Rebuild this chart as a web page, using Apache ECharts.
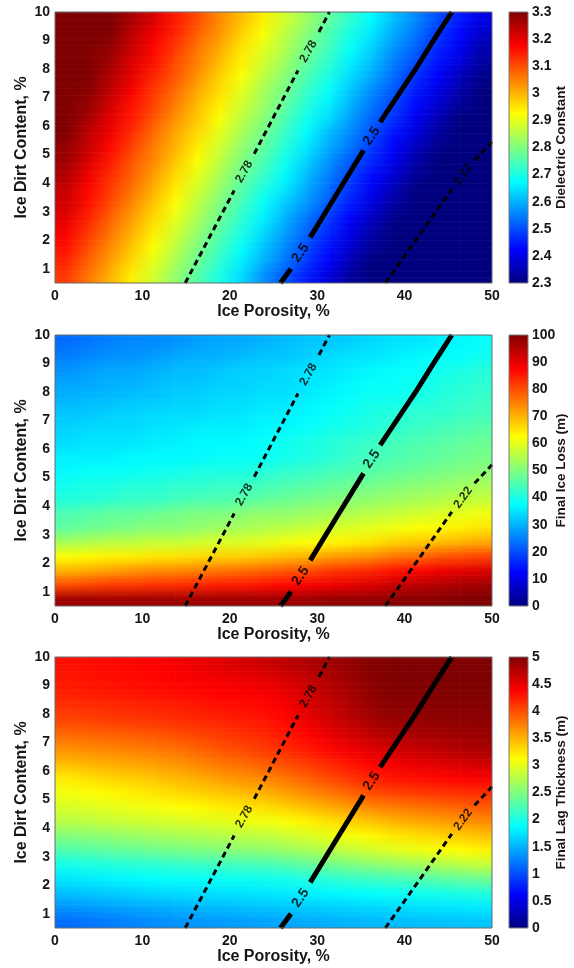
<!DOCTYPE html>
<html><head><meta charset="utf-8">
<script src="https://cdn.jsdelivr.net/npm/echarts@6/dist/echarts.min.js"></script>
<style>html,body{margin:0;padding:0;background:#fff}#c{width:574px;height:968px}</style>
</head><body><div id="c"></div>
<script>
// ---- data (grid nodes) ----
const porosity = [1.25,3.75,6.25,8.75,11.25,13.75,16.25,18.75,21.25,23.75,26.25,28.75,31.25,33.75,36.25,38.75,41.25,43.75,46.25,48.75];
const dirt = [0.75,1.25,1.75,2.25,2.75,3.25,3.75,4.25,4.75,5.25,5.75,6.25,6.75,7.25,7.75,8.25,8.75,9.25,9.75];

const dielectric = [
[3.12,3.06,3.00,2.94,2.88,2.82,2.76,2.70,2.64,2.57,2.51,2.45,2.39,2.33,2.27,2.21,2.15,2.09,2.02,1.96],
[3.14,3.08,3.02,2.96,2.90,2.84,2.78,2.72,2.66,2.60,2.54,2.48,2.42,2.35,2.29,2.23,2.17,2.11,2.05,1.99],
[3.16,3.10,3.04,2.98,2.92,2.86,2.80,2.74,2.68,2.62,2.56,2.50,2.44,2.38,2.32,2.26,2.20,2.14,2.08,2.02],
[3.18,3.12,3.06,3.00,2.94,2.88,2.82,2.76,2.70,2.64,2.58,2.52,2.46,2.40,2.34,2.28,2.22,2.16,2.10,2.04],
[3.20,3.14,3.08,3.02,2.96,2.90,2.84,2.78,2.72,2.66,2.60,2.54,2.48,2.42,2.36,2.31,2.25,2.19,2.13,2.07],
[3.22,3.16,3.10,3.04,2.98,2.92,2.86,2.80,2.74,2.68,2.62,2.57,2.51,2.45,2.39,2.33,2.27,2.21,2.15,2.09],
[3.23,3.17,3.12,3.06,3.00,2.94,2.88,2.82,2.76,2.70,2.65,2.59,2.53,2.47,2.41,2.35,2.29,2.24,2.18,2.12],
[3.25,3.19,3.13,3.08,3.02,2.96,2.90,2.84,2.78,2.73,2.67,2.61,2.55,2.49,2.43,2.38,2.32,2.26,2.20,2.14],
[3.27,3.21,3.15,3.09,3.04,2.98,2.92,2.86,2.80,2.75,2.69,2.63,2.57,2.51,2.46,2.40,2.34,2.28,2.23,2.17],
[3.28,3.23,3.17,3.11,3.05,3.00,2.94,2.88,2.82,2.77,2.71,2.65,2.59,2.54,2.48,2.42,2.36,2.31,2.25,2.19],
[3.30,3.24,3.19,3.13,3.07,3.01,2.96,2.90,2.84,2.79,2.73,2.67,2.61,2.56,2.50,2.44,2.39,2.33,2.27,2.22],
[3.32,3.26,3.20,3.15,3.09,3.03,2.98,2.92,2.86,2.81,2.75,2.69,2.64,2.58,2.52,2.47,2.41,2.35,2.30,2.24],
[3.33,3.28,3.22,3.16,3.11,3.05,2.99,2.94,2.88,2.83,2.77,2.71,2.66,2.60,2.54,2.49,2.43,2.38,2.32,2.26],
[3.35,3.29,3.24,3.18,3.12,3.07,3.01,2.96,2.90,2.84,2.79,2.73,2.68,2.62,2.56,2.51,2.45,2.40,2.34,2.29],
[3.36,3.31,3.25,3.20,3.14,3.09,3.03,2.97,2.92,2.86,2.81,2.75,2.70,2.64,2.59,2.53,2.47,2.42,2.36,2.31],
[3.38,3.32,3.27,3.21,3.16,3.10,3.05,2.99,2.94,2.88,2.83,2.77,2.72,2.66,2.61,2.55,2.50,2.44,2.39,2.33],
[3.39,3.34,3.28,3.23,3.17,3.12,3.06,3.01,2.95,2.90,2.85,2.79,2.74,2.68,2.63,2.57,2.52,2.46,2.41,2.35],
[3.41,3.35,3.30,3.24,3.19,3.14,3.08,3.03,2.97,2.92,2.86,2.81,2.75,2.70,2.65,2.59,2.54,2.48,2.43,2.37],
[3.42,3.37,3.31,3.26,3.21,3.15,3.10,3.04,2.99,2.94,2.88,2.83,2.77,2.72,2.67,2.61,2.56,2.50,2.45,2.40]
];

const iceLoss = [
[97,97,97,97,97,97,97,97,97,97,97,97,98,98,98,99,99,99,100,100],
[80,81,82,82,83,83,84,85,85,86,87,88,89,90,91,93,94,95,96,97],
[70,71,72,73,74,74,75,76,77,78,79,80,82,83,84,86,87,89,90,91],
[62,63,64,64,65,65,66,67,67,68,69,70,72,73,74,76,77,79,80,81],
[54,55,56,56,57,57,58,59,59,60,61,62,63,64,65,67,68,69,70,71],
[47,48,49,50,51,51,52,53,54,55,56,57,58,59,60,61,62,63,64,65],
[45,46,47,47,48,49,50,50,51,52,52,53,54,55,56,57,58,59,60,61],
[41,41,42,43,43,44,45,45,46,47,48,49,50,51,52,53,54,55,56,57],
[39,40,40,41,41,42,42,43,43,44,45,46,47,48,49,50,51,52,53,54],
[37,38,38,38,39,39,40,40,40,41,42,43,44,45,46,47,48,49,50,51],
[36,36,36,37,37,37,37,38,38,38,39,40,41,43,44,45,46,47,48,49],
[34,35,35,35,36,36,37,37,37,38,39,40,41,42,43,44,45,46,47,48],
[33,34,34,34,35,35,36,36,36,37,37,38,39,40,41,42,43,44,45,46],
[32,32,33,33,34,34,34,35,35,36,36,37,38,39,40,41,42,42,43,44],
[30,31,31,32,32,33,33,34,34,35,35,36,37,38,39,39,40,41,42,43],
[29,29,30,30,31,32,32,33,33,34,34,35,36,37,38,38,39,40,41,42],
[27,28,29,29,30,31,31,32,33,33,34,35,35,36,37,38,38,39,40,41],
[25,26,27,27,28,29,30,30,31,32,32,33,34,35,35,36,37,38,38,39],
[23,24,25,26,26,27,28,29,29,30,31,32,32,33,34,35,35,36,37,38]
];

const lagThickness = [
[1.15,1.19,1.23,1.27,1.31,1.34,1.36,1.38,1.40,1.42,1.44,1.46,1.49,1.51,1.53,1.55,1.56,1.57,1.58,1.59],
[1.36,1.39,1.42,1.45,1.48,1.51,1.53,1.55,1.57,1.59,1.61,1.63,1.65,1.67,1.69,1.71,1.73,1.75,1.76,1.78],
[1.57,1.60,1.63,1.66,1.69,1.71,1.72,1.74,1.75,1.76,1.78,1.81,1.84,1.86,1.89,1.92,1.95,1.98,2.01,2.04],
[1.76,1.79,1.82,1.85,1.88,1.90,1.91,1.93,1.94,1.95,1.98,2.03,2.08,2.13,2.18,2.22,2.27,2.32,2.37,2.42],
[1.98,2.01,2.04,2.07,2.10,2.13,2.16,2.18,2.20,2.23,2.28,2.35,2.42,2.49,2.56,2.62,2.67,2.73,2.79,2.84],
[2.27,2.31,2.35,2.38,2.42,2.46,2.49,2.52,2.55,2.58,2.63,2.70,2.77,2.84,2.91,2.98,3.03,3.08,3.13,3.18],
[2.52,2.55,2.59,2.63,2.66,2.70,2.73,2.76,2.79,2.82,2.87,2.94,3.02,3.09,3.16,3.23,3.28,3.33,3.38,3.43],
[2.78,2.81,2.84,2.87,2.90,2.93,2.96,2.99,3.02,3.05,3.10,3.18,3.26,3.34,3.42,3.49,3.54,3.59,3.64,3.69],
[2.93,2.96,3.00,3.04,3.07,3.11,3.15,3.20,3.24,3.28,3.35,3.44,3.53,3.62,3.71,3.77,3.81,3.85,3.89,3.93],
[3.06,3.11,3.16,3.20,3.25,3.30,3.35,3.40,3.45,3.50,3.58,3.69,3.79,3.89,4.00,4.06,4.09,4.12,4.14,4.17],
[3.22,3.27,3.32,3.36,3.41,3.46,3.52,3.59,3.65,3.71,3.79,3.90,4.01,4.11,4.22,4.28,4.31,4.34,4.37,4.40],
[3.44,3.48,3.52,3.55,3.59,3.64,3.71,3.78,3.84,3.91,3.99,4.08,4.18,4.28,4.37,4.44,4.48,4.52,4.56,4.60],
[3.65,3.68,3.71,3.74,3.77,3.81,3.88,3.95,4.01,4.08,4.16,4.25,4.34,4.43,4.52,4.59,4.64,4.69,4.74,4.79],
[3.84,3.87,3.89,3.91,3.94,3.98,4.03,4.08,4.13,4.18,4.25,4.36,4.47,4.57,4.68,4.75,4.78,4.81,4.84,4.87],
[4.02,4.04,4.07,4.09,4.11,4.14,4.17,4.20,4.23,4.26,4.34,4.46,4.58,4.69,4.81,4.88,4.89,4.91,4.92,4.93],
[4.13,4.15,4.17,4.19,4.21,4.23,4.26,4.29,4.31,4.34,4.41,4.53,4.65,4.76,4.88,4.94,4.95,4.96,4.96,4.97],
[4.22,4.24,4.26,4.28,4.30,4.32,4.34,4.37,4.39,4.41,4.48,4.59,4.70,4.81,4.92,4.98,4.98,4.99,4.99,4.99],
[4.27,4.29,4.31,4.33,4.35,4.38,4.41,4.44,4.47,4.50,4.57,4.66,4.76,4.86,4.95,5.00,5.00,5.00,5.00,5.00],
[4.30,4.32,4.34,4.36,4.38,4.42,4.47,4.52,4.57,4.63,4.69,4.76,4.83,4.90,4.97,5.00,5.00,5.00,5.00,5.00]
];

// contour lines of dielectric constant (same on every panel), broken where labels sit
const contourLevels = ['2.78', '2.5', '2.22'];
const contourSegments = [
  [[[14.9,0.5],[20.5,3.74]], [[22.8,5.03],[27.8,7.95]], [[30.2,9.3],[31.4,10]]],
  [[[25.8,0.5],[27.0,1.0]], [[29.2,2.1],[32.2,3.6],[35.3,5.15]], [[37.2,6.14],[39.3,7.1],[41.4,8.07],[43.4,9.05],[45.4,10]]],
  [[[37.8,0.5],[41.5,2.1],[45.4,3.8]], [[48.0,4.8],[50,5.45]]]
];
const contourLabelPoints = [
  [[21.65,4.4],[29.0,8.62]],
  [[28.1,1.55],[36.25,5.65]],
  [[46.7,4.3]]
];

// axes / colour bars
const xTicks = [0, 10, 20, 30, 40, 50];
const yTicks = [1, 2, 3, 4, 5, 6, 7, 8, 9, 10];
const colorbarRanges = [[2.3, 3.3, 0.1], [0, 100, 10], [0, 5, 0.5]];
const colorbarTitles = ['Dielectric Constant', 'Final Ice Loss (m)', 'Final Lag Thickness (m)'];
const fields = [dielectric, iceLoss, lagThickness];

// ---- styles / layout ----
const FONT = '"Liberation Sans", Arial, Helvetica, sans-serif';
const TXT = '#161616';
const jet = ['#00007f','#0000ff','#007fff','#00ffff','#7fff7f','#ffff00','#ff7f00','#ff0000','#7f0000'];
const panelTops = [12, 335, 657];
const PLOT_LEFT = 55, PLOT_W = 437, PLOT_H = 271, CB_LEFT = 509, CB_W = 19;
const STRIPS = 6;
const contourStyles = [
  {width: 3, type: [6, 4], rotate: 60, fontSize: 12},
  {width: 5, type: 'solid', rotate: 56, fontSize: 14},
  {width: 3, type: [6, 4], rotate: 54, fontSize: 12}
];

const nCols = porosity.length, nRows = dirt.length;
const cellW = porosity[1] - porosity[0];
const cellH = dirt[1] - dirt[0];

// spans owned by node k along one axis: [from, to, nodeAtFrom, nodeAtTo]
function spans(arr, k, half) {
  const out = [];
  if (k === 0) out.push([arr[0] - half, arr[0], 0, 0]);
  if (k < arr.length - 1) out.push([arr[k], arr[k + 1], k, k + 1]);
  else out.push([arr[k], arr[k] + half, k, k]);
  return out;
}
// smooth ("interp") shading between neighbouring grid nodes, colours from the visualMap
function renderCell(params, api) {
  const idx = params.dataIndexInside;
  const i = idx % nCols, j = (idx - i) / nCols;
  const colorAt = (ii, jj) => api.visual('color', jj * nCols + ii);
  const children = [];
  spans(porosity, i, cellW / 2).forEach(([x0, x1, iL, iR]) => {
    spans(dirt, j, cellH / 2).forEach(([y0, y1, jB, jT]) => {
      const pa = api.coord([x0, y0]), pb = api.coord([x1, y1]);
      const cBL = colorAt(iL, jB), cBR = colorAt(iR, jB), cTL = colorAt(iL, jT), cTR = colorAt(iR, jT);
      const left = pa[0], width = pb[0] - pa[0];
      const bottom = pa[1], h = pa[1] - pb[1];
      for (let s = 0; s < STRIPS; s++) {
        const t = (s + 0.5) / STRIPS;
        const cl = echarts.color.lerp(t, [cBL, cTL]);
        const cr = echarts.color.lerp(t, [cBR, cTR]);
        const yTop = bottom - h * (s + 1) / STRIPS;
        children.push({
          type: 'rect',
          shape: {x: left, y: yTop, width: width + 0.6, height: h / STRIPS + 0.6},
          style: {fill: new echarts.graphic.LinearGradient(0, 0, 1, 0, [{offset: 0, color: cl}, {offset: 1, color: cr}])}
        });
      }
    });
  });
  return {type: 'group', children: children};
}

const jetGradient = {
  type: 'linear', x: 0, y: 1, x2: 0, y2: 0,
  colorStops: jet.map((c, i) => ({offset: i / (jet.length - 1), color: c}))
};

const option = {
  animation: false,
  backgroundColor: '#fff',
  textStyle: {fontFamily: FONT},
  grid: [], xAxis: [], yAxis: [], series: [], visualMap: []
};

fields.forEach((field, k) => {
  const top = panelTops[k];
  const [vmin, vmax, vstep] = colorbarRanges[k];
  const g = option.grid.length;
  option.grid.push({left: PLOT_LEFT, top: top, width: PLOT_W, height: PLOT_H, show: true, z: 10,
    backgroundColor: 'rgba(0,0,0,0)', borderColor: '#6a6a6a', borderWidth: 1});
  option.grid.push({left: CB_LEFT, top: top, width: CB_W, height: PLOT_H, show: true, z: 10,
    backgroundColor: jetGradient, borderColor: '#7a7a7a', borderWidth: 1});

  option.xAxis.push({
    gridIndex: g, type: 'value', min: xTicks[0], max: xTicks[xTicks.length - 1], interval: xTicks[1] - xTicks[0],
    axisLine: {show: false}, axisTick: {show: false}, splitLine: {show: false},
    axisLabel: {color: TXT, fontSize: 14, fontWeight: 'bold', margin: 6, fontFamily: FONT},
    name: 'Ice Porosity, %', nameLocation: 'middle', nameGap: 21,
    nameTextStyle: {color: TXT, fontSize: 16, fontWeight: 'bold', fontFamily: FONT}
  });
  option.yAxis.push({
    gridIndex: g, type: 'value', min: 0.5, max: 10,
    axisLine: {show: false}, axisTick: {show: false}, splitLine: {show: false},
    axisLabel: {color: TXT, fontSize: 14, fontWeight: 'bold', margin: 5, fontFamily: FONT, customValues: yTicks},
    name: 'Ice Dirt Content, %', nameLocation: 'middle', nameGap: 25, nameMoveOverlap: false,
    nameTextStyle: {color: TXT, fontSize: 16, fontWeight: 'bold', fontFamily: FONT}
  });
  option.xAxis.push({gridIndex: g + 1, type: 'value', min: 0, max: 1, show: false});
  option.yAxis.push({
    gridIndex: g + 1, type: 'value', position: 'right', min: vmin, max: vmax, interval: vstep,
    axisLine: {show: false}, axisTick: {show: false}, splitLine: {show: false},
    axisLabel: {color: TXT, fontSize: 14, fontWeight: 'bold', margin: 4, fontFamily: FONT},
    name: colorbarTitles[k], nameLocation: 'middle', nameGap: 26, nameRotate: 90, nameMoveOverlap: false,
    nameTextStyle: {color: TXT, fontSize: 13.5, fontWeight: 'bold', fontFamily: FONT}
  });

  const data = [];
  field.forEach((row, j) => row.forEach((v, i) => data.push([porosity[i], dirt[j], v])));
  const cellSeriesIndex = option.series.length;
  option.series.push({
    type: 'custom', xAxisIndex: g, yAxisIndex: g, renderItem: renderCell, clip: true,
    encode: {x: 0, y: 1}, data: data, silent: true, z: 1
  });
  option.visualMap.push({
    type: 'continuous', show: false, seriesIndex: cellSeriesIndex, dimension: 2,
    min: vmin, max: vmax, inRange: {color: jet}
  });

  contourSegments.forEach((segs, c) => {
    const st = contourStyles[c];
    option.series.push({
      type: 'lines', coordinateSystem: 'cartesian2d', xAxisIndex: g, yAxisIndex: g,
      polyline: true, silent: true, z: 3,
      lineStyle: {color: '#000', width: st.width, type: st.type, opacity: 1, cap: 'butt'},
      data: segs.map(s => ({coords: s}))
    });
  });
  const labelData = [];
  contourLabelPoints.forEach((pts, c) => pts.forEach(pt => labelData.push({
    name: contourLevels[c], value: pt,
    label: {rotate: contourStyles[c].rotate, fontSize: contourStyles[c].fontSize}
  })));
  option.series.push({
    type: 'scatter', xAxisIndex: g, yAxisIndex: g, symbolSize: 1, silent: true, z: 4,
    itemStyle: {color: 'rgba(0,0,0,0)'},
    label: {show: true, position: 'inside', formatter: '{b}', color: '#000', fontWeight: 'bold', fontFamily: FONT},
    data: labelData
  });
});

const chart = echarts.init(document.getElementById('c'), null, {renderer: 'canvas'});
chart.setOption(option);
</script></body></html>
